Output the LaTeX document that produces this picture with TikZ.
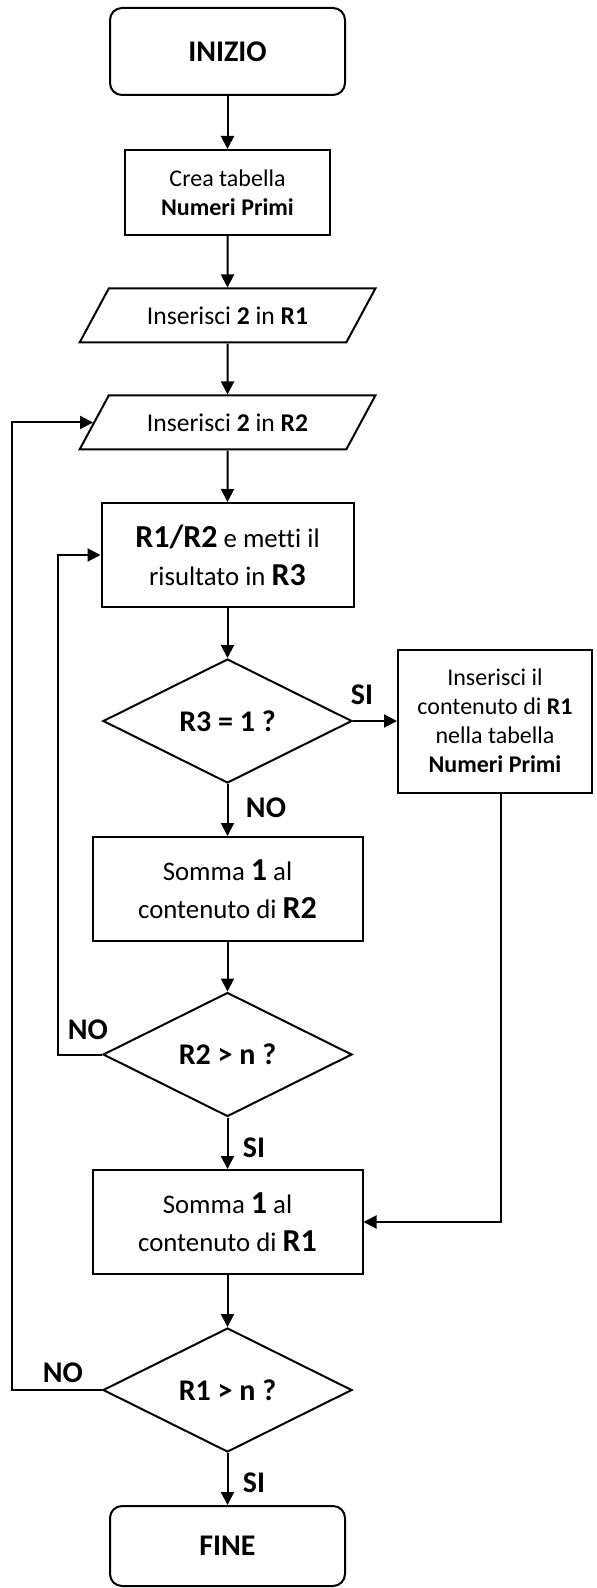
\documentclass[tikz,border=0pt]{standalone}
\usepackage{fontspec}
\setmainfont{Carlito}[Ligatures=NoCommon]
\usepackage{tikz}
\usetikzlibrary{arrows.meta,shapes.geometric}
\newcommand{\grande}[1]{{\fontsize{16}{19}\selectfont\bfseries #1}}

\begin{document}
\begin{tikzpicture}[x=0.5pt,y=-0.5pt,->,>={Triangle[length=6.5pt,width=6.5pt]},line width=1pt,
  term/.style={draw,rectangle,rounded corners=6pt,minimum width=117.5pt,font=\fontsize{15}{18}\selectfont\bfseries},
  proc/.style={draw,rectangle,align=center,inner sep=0pt},
  io/.style={draw,trapezium,trapezium left angle=42,trapezium right angle=138,trapezium stretches=true,minimum width=149pt,minimum height=27pt,inner sep=0pt,font=\fontsize{12.8}{15}\selectfont},
  choice/.style={draw,diamond,minimum width=124.5pt,minimum height=62pt,inner sep=0pt,font=\fontsize{15}{18}\selectfont\bfseries},
  lbl/.style={font=\fontsize{15}{18}\selectfont\bfseries}]
  \useasboundingbox (0,0) rectangle (596,1588);

  \node[term,minimum height=43.5pt] (inizio) at (227.5,51.5) {INIZIO};
  \node[proc,minimum width=102.5pt,minimum height=42.5pt,font=\fontsize{12}{14.5}\selectfont] (tabella) at (227.5,192.5) {Crea tabella\\\textbf{Numeri Primi}};
  \node[io] (ioone) at (227.5,315.5) {Inserisci \textbf{2} in \textbf{R1}};
  \node[io] (iotwo) at (227.5,422.5) {Inserisci \textbf{2} in \textbf{R2}};
  \node[proc,minimum width=126pt,minimum height=52pt,font=\fontsize{13.4}{19}\selectfont] (dividi) at (227.5,555) {\grande{R1/R2} e metti il\\risultato in \grande{R3}};
  \node[choice] (rtre) at (227.5,721) {R3 = 1 ?};
  \node[proc,minimum width=97pt,minimum height=71.5pt,font=\fontsize{12}{14.5}\selectfont] (salva) at (495,721) {Inserisci il\\contenuto di \textbf{R1}\\nella tabella\\\textbf{Numeri Primi}};
  \node[proc,minimum width=135pt,minimum height=52pt,font=\fontsize{13.4}{19}\selectfont] (sommadue) at (227.5,889) {Somma \grande{1} al\\contenuto di \grande{R2}};
  \node[choice] (rdue) at (227.5,1054.5) {R2 > n ?};
  \node[proc,minimum width=135pt,minimum height=52pt,font=\fontsize{13.4}{19}\selectfont] (sommauno) at (227.5,1222) {Somma \grande{1} al\\contenuto di \grande{R1}};
  \node[choice] (runo) at (227.5,1390) {R1 > n ?};
  \node[term,minimum height=40pt] (fine) at (227.5,1546) {FINE};

  \node[lbl] (sia) at (362,695) {SI};
  \node[lbl] (noa) at (266,808) {NO};
  \node[lbl] (nob) at (88,1030) {NO};
  \node[lbl] (sib) at (254,1148) {SI};
  \node[lbl] (noc) at (63,1373) {NO};
  \node[lbl] (sic) at (254,1483) {SI};

\path
  (inizio) edge (tabella)
  (tabella) edge (ioone)
  (ioone) edge (iotwo)
  (iotwo) edge (dividi)
  (dividi) edge (rtre)
  (rtre) edge (salva)
  (rtre) edge (sommadue)
  (sommadue) edge (rdue)
  (rdue) edge (sommauno)
  (sommauno) edge (runo)
  (runo) edge (fine);

  \draw (rdue.west) -- ++(-44,0) |- (dividi.west);
  \draw (runo.west) -- ++(-90,0) |- (iotwo.left side);
  \draw ([xshift=3pt]salva.south) |- (sommauno.east);
\end{tikzpicture}
\end{document}
